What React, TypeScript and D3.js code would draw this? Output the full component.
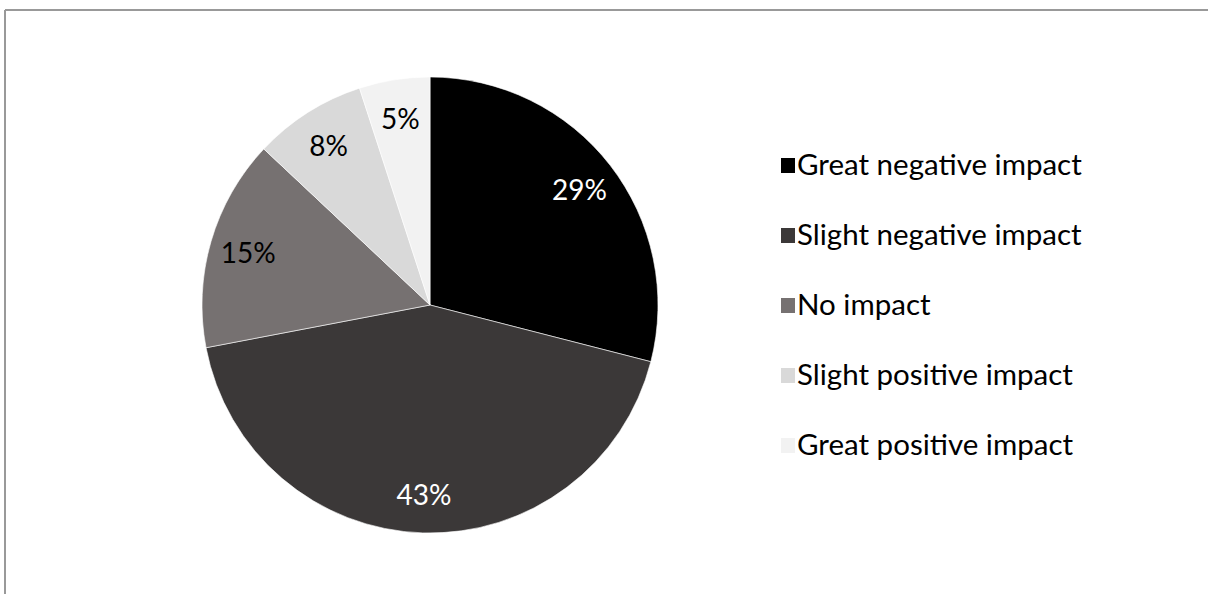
import React from "react";
import * as d3 from "d3";

const categories = [
  "Great negative impact",
  "Slight negative impact",
  "No impact",
  "Slight positive impact",
  "Great positive impact",
];
const values = [29, 43, 15, 8, 5];
const colors = ["#000000", "#3b3838", "#767171", "#d9d9d9", "#f2f2f2"];
const labelColors = ["#ffffff", "#ffffff", "#000000", "#000000", "#000000"];

const W = 1208;
const H = 594;
const FONT = "Lato, 'Open Sans', sans-serif";
const FS_LABEL = 28;
const FS_LEGEND = 29.5;

export default function App() {
  const cx = 430;
  const cy = 305;
  const r = 228;
  const pie = d3.pie<number>().sort(null).value((d) => d);
  const arcs = pie(values);
  const arc = d3.arc<d3.PieArcDatum<number>>().innerRadius(0).outerRadius(r);
  const labelArc = d3
    .arc<d3.PieArcDatum<number>>()
    .innerRadius(r * 0.83)
    .outerRadius(r * 0.83);
  const total = d3.sum(values);
  const legendY = d3
    .scalePoint<string>()
    .domain(categories)
    .range([175, 455]);

  return (
    <svg
      width={W}
      height={H}
      style={{ position: "absolute", left: 0, top: 0, background: "#fff" }}
      fontFamily={FONT}
    >
      <rect x={0} y={0} width={W} height={H} fill="#fff" />
      <line x1={5} y1={10} x2={W} y2={10} stroke="#999" strokeWidth={2} />
      <line x1={5} y1={10} x2={5} y2={H} stroke="#999" strokeWidth={2} />
      <g transform={`translate(${cx},${cy})`}>
        {arcs.map((a, i) => (
          <path key={i} d={arc(a) || ""} fill={colors[i]} stroke="#fff" strokeWidth={0.6} />
        ))}
        {arcs.map((a, i) => {
          const [x, y] = labelArc.centroid(a);
          return (
            <text
              key={i}
              x={x}
              y={y}
              textAnchor="middle"
              dominantBaseline="central"
              fontSize={FS_LABEL}
              fill={labelColors[i]}
            >
              {Math.round((values[i] / total) * 100)}%
            </text>
          );
        })}
      </g>
      {categories.map((c, i) => {
        const y = legendY(c) as number;
        return (
          <g key={c}>
            <rect x={781} y={y - 17} width={14} height={15} fill={colors[i]} />
            <text x={797} y={y} fontSize={FS_LEGEND} fill="#000">
              {c}
            </text>
          </g>
        );
      })}
    </svg>
  );
}
